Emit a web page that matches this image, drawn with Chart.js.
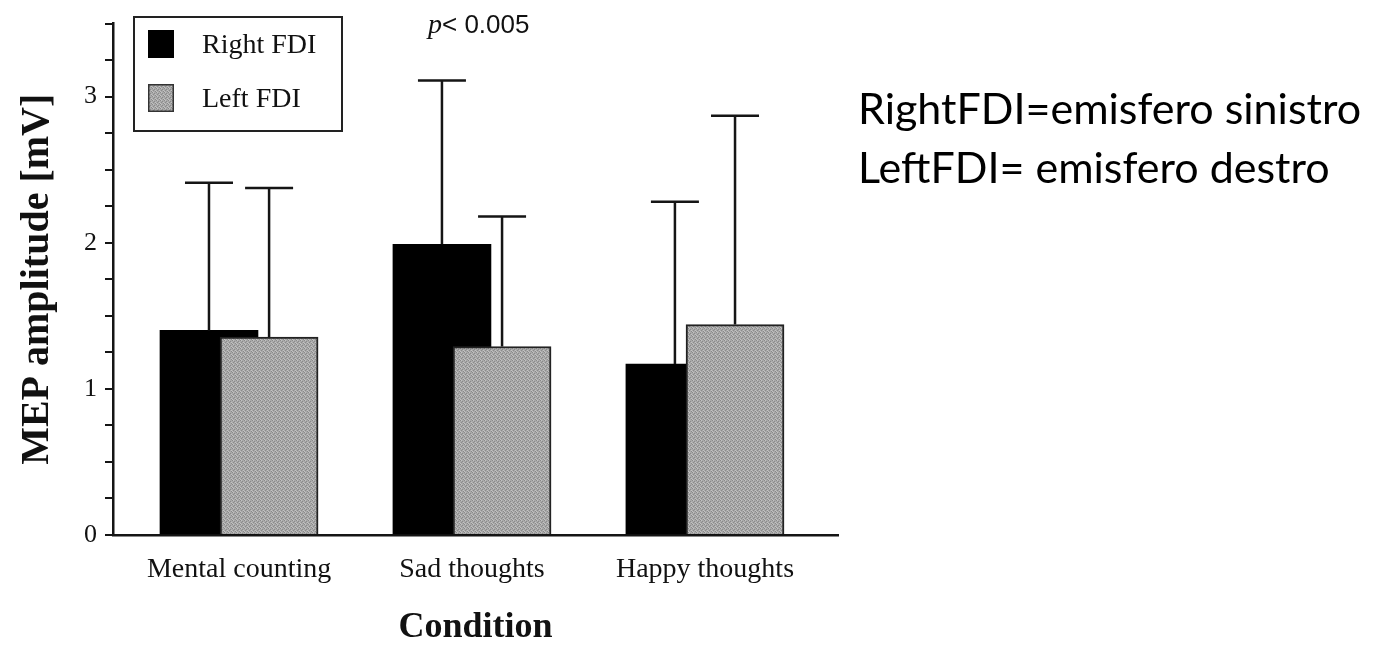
<!DOCTYPE html>
<html>
<head>
<meta charset="utf-8">
<script src="https://cdn.jsdelivr.net/npm/chart.js@4.4.1/dist/chart.umd.min.js"></script>
<style>
  html, body { margin: 0; padding: 0; background: #fff; }
  #wrap { position: relative; width: 1382px; height: 647px; overflow: hidden; }
  #c { position: absolute; left: 0; top: 0; }
  .legend { position: absolute; left: 133px; top: 16px; width: 206px; height: 112px; border: 2.5px solid #222; box-sizing: content-box; }
  .sw { position: absolute; left: 13px; width: 26px; height: 28px; }
  .lt { position: absolute; left: 67px; font-family: "Liberation Serif", serif; font-size: 28px; color: #111; line-height: 28px; white-space: nowrap; }
  .pval { position: absolute; left: 428px; top: 8px; font-family: "Liberation Sans", sans-serif; font-size: 26px; color: #111; white-space: nowrap; }
  .note { position: absolute; left: 858px; font-family: Lato, "Open Sans", sans-serif; font-size: 43px; color: #000; white-space: nowrap; line-height: 52px; }
</style>
</head>
<body>
<div id="wrap">
  <canvas id="c" width="1382" height="647"></canvas>
  <div class="legend">
    <div class="sw" id="sw1" style="top:12px;background:#000;"></div>
    <div class="lt" style="top:12px;">Right FDI</div>
    <div class="sw" id="sw2" style="top:66px;"></div>
    <div class="lt" style="top:66px;">Left FDI</div>
  </div>
  <div class="pval"><i style="font-family:'Liberation Serif',serif;font-size:28px;">p</i>&lt; 0.005</div>
  <div class="note" style="top:82px;">RightFDI=emisfero sinistro</div>
  <div class="note" style="top:141px;">LeftFDI= emisfero destro</div>
</div>
<script>
// ---- data ----
const categories = ['Mental counting', 'Sad thoughts', 'Happy thoughts'];
const rightFDI = [1.40, 1.99, 1.17];
const leftFDI = [1.355, 1.29, 1.44];
const rightFDIErr = [1.01, 1.12, 1.11];
const leftFDIErr = [1.02, 0.89, 1.43];
const yTickLabels = [0, 1, 2, 3];
const seriesNames = ['Right FDI', 'Left FDI'];

// ---- gray stipple pattern (deterministic) ----
const pc = document.createElement('canvas');
pc.width = 4; pc.height = 4;
const pctx = pc.getContext('2d');
pctx.fillStyle = '#a9a9a9'; pctx.fillRect(0, 0, 4, 4);
pctx.fillStyle = '#8a8a8a';
[[0,0],[2,1],[1,2],[3,3]].forEach(([a,b]) => pctx.fillRect(a, b, 1, 1));
pctx.fillStyle = '#c2c2c2';
[[1,0],[3,2],[0,3]].forEach(([a,b]) => pctx.fillRect(a, b, 1, 1));
const grayPattern = pctx.createPattern(pc, 'repeat');
const sw2 = document.getElementById('sw2');
sw2.style.backgroundImage = 'url(' + pc.toDataURL() + ')';
sw2.style.boxShadow = 'inset 0 0 0 1.5px #333';

const OFFSET = 0.129; // half the spacing between the two bars of a group (x units)
const toPoints = (vals, shift) => vals.map((v, i) => ({ x: i + shift, y: v }));

const errorBars = {
  id: 'errorBars',
  afterDatasetsDraw(chart) {
    const ctx = chart.ctx;
    const ys = chart.scales.y;
    chart.data.datasets.forEach((ds, di) => {
      const meta = chart.getDatasetMeta(di);
      meta.data.forEach((bar, i) => {
        const top = ys.getPixelForValue(ds.data[i].y + ds.errors[i]);
        ctx.save();
        ctx.strokeStyle = '#151515';
        ctx.lineWidth = 2.5;
        ctx.beginPath();
        ctx.moveTo(bar.x, bar.y);
        ctx.lineTo(bar.x, top);
        ctx.moveTo(bar.x - 24, top);
        ctx.lineTo(bar.x + 24, top);
        ctx.stroke();
        ctx.restore();
      });
    });
  }
};

new Chart(document.getElementById('c'), {
  type: 'bar',
  data: {
    datasets: [
      { label: seriesNames[1], data: toPoints(leftFDI, OFFSET), errors: leftFDIErr,
        backgroundColor: grayPattern, borderColor: '#222', borderWidth: 2,
        barThickness: 98, grouped: false },
      { label: seriesNames[0], data: toPoints(rightFDI, -OFFSET), errors: rightFDIErr,
        backgroundColor: '#000', borderWidth: 0,
        barThickness: 98, grouped: false }
    ]
  },
  options: {
    responsive: false,
    animation: false,
    events: [],
    layout: { padding: { left: 0, right: 544, top: 18, bottom: 0 } },
    plugins: { legend: { display: false }, tooltip: { enabled: false } },
    scales: {
      x: {
        type: 'linear',
        offset: false,
        min: -0.541, max: 2.571,
        afterBuildTicks(s) { s.ticks = categories.map((c, i) => ({ value: i })); },
        afterFit(s) { s.height = 112; },
        ticks: {
          callback: (v) => categories[v] ?? '',
          font: { family: 'Liberation Serif', size: 28 },
          color: '#111', padding: 18, maxRotation: 0, autoSkip: false
        },
        grid: { display: false, drawTicks: false },
        border: { display: true, color: '#151515', width: 2.5 },
        title: {
          display: true, text: 'Condition', color: '#111',
          font: { family: 'Liberation Serif', size: 36, weight: 'bold' },
          padding: { top: 0, bottom: -2 }
        }
      },
      y: {
        min: 0, max: 3.5,
        afterFit(s) { s.width = 113; },
        ticks: {
          stepSize: 0.25, autoSkip: false,
          callback: (v) => yTickLabels.includes(v) ? String(v) : '',
          font: { family: 'Liberation Serif', size: 26 },
          color: '#111', padding: 8
        },
        grid: { drawOnChartArea: false, drawTicks: true, tickLength: 8, color: '#151515', lineWidth: 2 },
        border: { display: true, color: '#151515', width: 2.5 },
        title: {
          display: true, text: 'MEP amplitude [mV]', color: '#111',
          font: { family: 'Liberation Serif', size: 40, weight: 'bold' },
          padding: { top: 14, bottom: 0 }
        }
      }
    }
  },
  plugins: [errorBars]
});
</script>
</body>
</html>
